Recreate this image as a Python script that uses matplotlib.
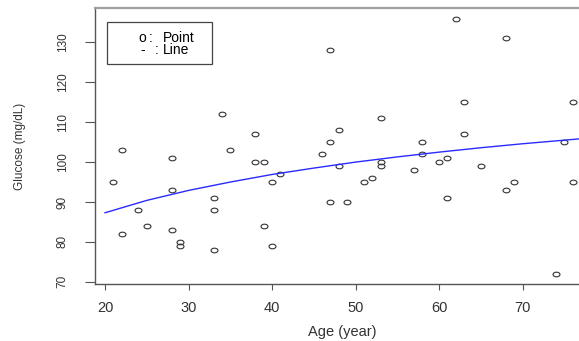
import numpy as np
import matplotlib.pyplot as plt
from matplotlib.path import Path
from matplotlib.transforms import Affine2D

plt.rcParams['font.family'] = ['Liberation Sans', 'DejaVu Sans']

# observed points (age in years, glucose in mg/dL)
age = [34, 38, 22, 28, 35, 46,
       62, 68, 47, 63, 76, 53, 48, 47, 58, 63, 58, 61, 75,
       38, 39, 21, 41, 40, 28, 33, 24, 33, 25, 28, 39, 22, 29, 29, 40, 33,
       48, 53, 53, 60, 65, 57, 52, 51, 69, 76, 68, 47, 49, 61, 74]
glucose = [112, 107, 103, 101, 103, 102,
           136, 131, 128, 115, 115, 111, 108, 105, 105, 107, 102, 101, 105,
           100, 100, 95, 97, 95, 93, 91, 88, 88, 84, 83, 84, 82, 80, 79, 79, 78,
           99, 100, 99, 100, 99, 98, 96, 95, 95, 95, 93, 90, 90, 91, 72]

# fitted curve
curve_age = [20, 25, 30, 35, 40, 45, 50, 55, 60, 65, 70, 75, 80]
curve_glucose = [87.3, 90.4, 92.9, 95.0, 96.9, 98.5, 100.0, 101.3, 102.5,
                 103.6, 104.6, 105.5, 106.4]

x_ticks = [20, 30, 40, 50, 60, 70]
y_ticks = [70, 80, 90, 100, 110, 120, 130]

W, H = 579, 341
fig = plt.figure(figsize=(W / 100, H / 100), dpi=100)
ax = fig.add_axes([95 / W, 1 - 284 / H, (591 - 95) / W, (284 - 8.3) / H])

# slightly wide ellipse, as the original picture is stretched sideways
circ = Path.unit_circle()
ellipse = Path(Affine2D().scale(1.5, 1.0).transform(circ.vertices), circ.codes)

ax.plot(age, glucose, linestyle='none', marker=ellipse, markersize=5,
        markerfacecolor='none', markeredgecolor='#333333', markeredgewidth=0.8)
ax.plot(curve_age, curve_glucose, color='#2a2aff', lw=1.0)

ax.set_xlim(18.8, 78.2)
ax.set_ylim(69.44, 138.56)
ax.set_xticks(x_ticks)
ax.set_yticks(y_ticks)
ax.tick_params(axis='x', length=4, width=0.8, color='#555555', pad=8,
               labelsize=10.5, labelcolor='#333333')
ax.tick_params(axis='y', length=7, width=0.8, color='#555555', pad=12,
               labelsize=8.5, labelcolor='#333333', labelrotation=90)
for lab in ax.get_yticklabels():
    lab.set_va('center')
for side in ['left', 'bottom']:
    ax.spines[side].set_color('#555555')
    ax.spines[side].set_linewidth(1.0)
ax.spines['top'].set_color('#a0a0a0')
ax.spines['top'].set_linewidth(1.6)
ax.spines['right'].set_color('#555555')

fig.text(342 / W, 1 - 332 / H, 'Age (year)', ha='center', va='center',
         fontsize=10.5, color='#333333')
fig.text(20 / W, 1 - 146 / H, 'Glucose (mg/dL)', ha='center', va='center',
         rotation=90, fontsize=8.5, color='#333333')

# legend box drawn as in the original
box = plt.Rectangle((106.7 / W, 1 - 64.3 / H), (212.3 - 106.7) / W, (64.3 - 22.3) / H,
                    transform=fig.transFigure, fill=False, edgecolor='#444444', lw=0.9)
fig.add_artist(box)
fig.text(138 / W, 1 - 37.7 / H, 'o', ha='left', va='center', fontsize=10)
fig.text(151 / W, 1 - 37.7 / H, ':', ha='center', va='center', fontsize=10)
fig.text(163 / W, 1 - 37.7 / H, 'Point', ha='left', va='center', fontsize=10)
fig.text(140 / W, 1 - 50.5 / H, '-', ha='left', va='center', fontsize=10)
fig.text(157 / W, 1 - 50.5 / H, ':', ha='center', va='center', fontsize=10)
fig.text(163 / W, 1 - 50.5 / H, 'Line', ha='left', va='center', fontsize=10)

fig.savefig('out.png', dpi=100)
